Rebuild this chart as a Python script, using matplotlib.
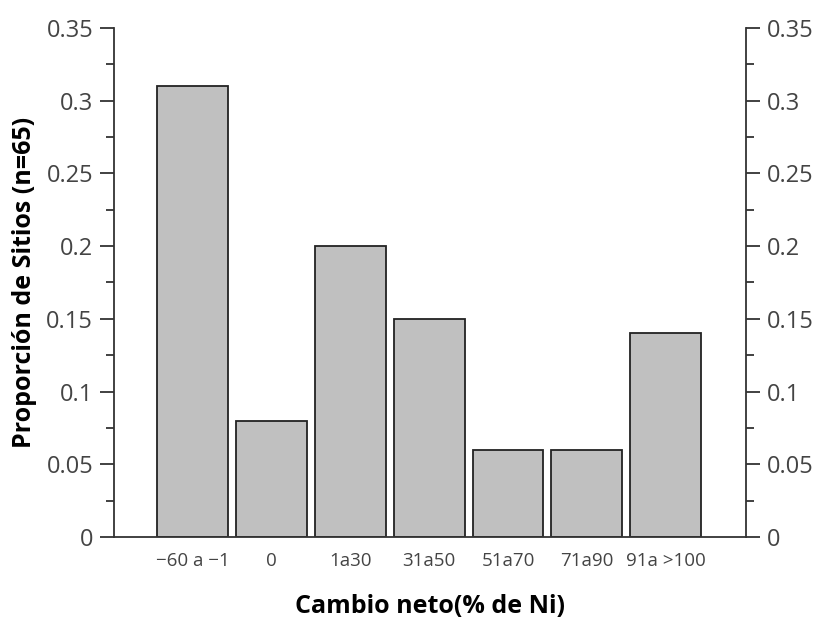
import matplotlib
matplotlib.use("Agg")
import matplotlib.pyplot as plt
from matplotlib.ticker import MultipleLocator

categories = ["\u221260 a \u22121", "0", "1a30", "31a50", "51a70", "71a90", "91a >100"]
values = [0.31, 0.08, 0.20, 0.15, 0.06, 0.06, 0.14]
yticks = [0, 0.05, 0.1, 0.15, 0.2, 0.25, 0.3, 0.35]
ytick_labels = ["0", "0.05", "0.1", "0.15", "0.2", "0.25", "0.3", "0.35"]

plt.rcParams['font.family'] = ['Open Sans', 'DejaVu Sans']

fig = plt.figure(figsize=(8.19, 6.19), dpi=100)
ax = fig.add_axes([0.1392, 0.1325, 0.9109 - 0.1392, 0.9548 - 0.1325])

x = list(range(len(categories)))
ax.bar(x, values, width=0.9, color="#c0c0c0", edgecolor="#222222", linewidth=1.3)

ax.set_xlim(-1, 7.02)
ax.set_ylim(0, 0.35)
ax.set_xticks(x)
ax.set_xticklabels(categories, fontsize=13.5, color="#444444")
ax.tick_params(axis='x', length=0, pad=11)

ax.yaxis.set_minor_locator(MultipleLocator(0.025))
ax.set_yticks(yticks)
ax.set_yticklabels(ytick_labels)
ax.tick_params(axis='y', which='major', length=10, width=1.3, color="#333333",
               labelsize=17, labelcolor="#444444", direction='out',
               left=True, right=True, labelleft=True, labelright=True, pad=5)
ax.tick_params(axis='y', which='minor', length=5.8, width=1.3, color="#333333",
               direction='out', left=True, right=True)

for s in ['left', 'right', 'bottom']:
    ax.spines[s].set_linewidth(1.3)
    ax.spines[s].set_color("#333333")
ax.spines['top'].set_visible(False)

ax.set_xlabel("Cambio neto(% de Ni)", fontsize=18, fontweight='bold', labelpad=17)
ax.set_ylabel("Proporción de Sitios (n=65)", fontsize=18, fontweight='bold', labelpad=7)

fig.savefig("out.png", dpi=100)
